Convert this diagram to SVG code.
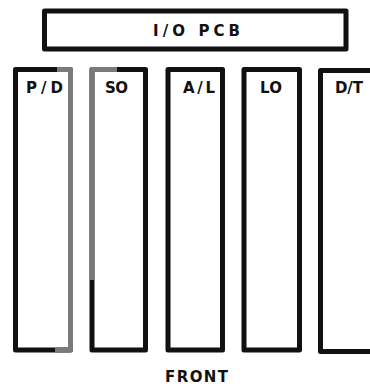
<svg xmlns="http://www.w3.org/2000/svg" width="370" height="387" viewBox="0 0 370 387">
<style>
.box{fill:#fff;stroke:#111;stroke-width:5;stroke-linejoin:round}
.gray{fill:none;stroke:#7a7a7a;stroke-width:5;stroke-linejoin:round}
.lbl{font-family:"DejaVu Sans","Liberation Sans",Arial,sans-serif;font-weight:bold;font-size:15px;fill:#111}
</style>
<rect width="370" height="387" fill="#fff"/>
<g id="io-pcb">
<rect class="box" x="44.5" y="11" width="301.5" height="38" stroke-width="4"/>
<text class="lbl" x="153" y="36" font-size="12" textLength="87" lengthAdjust="spacing">I/O PCB</text>
</g>
<g id="slot-pd">
<rect class="box" x="15.5" y="69.5" width="55" height="280.5"/>
<path class="gray" d="M57,69.5 H70.5 V350 H55"/>
<text class="lbl" x="26" y="93" textLength="37" lengthAdjust="spacing">P/D</text>
</g>
<g id="slot-so">
<rect class="box" x="92" y="69.5" width="53.5" height="280.5"/>
<path class="gray" d="M117,69.5 H92 V280"/>
<text class="lbl" x="105" y="93" textLength="23" lengthAdjust="spacing">SO</text>
</g>
<g id="slot-al">
<rect class="box" x="168" y="69.5" width="54.5" height="280.5"/>
<text class="lbl" x="183" y="93" textLength="32" lengthAdjust="spacing">A/L</text>
</g>
<g id="slot-lo">
<rect class="box" x="244" y="69.5" width="55.5" height="280.5"/>
<text class="lbl" x="260" y="93" textLength="22" lengthAdjust="spacing">LO</text>
</g>
<g id="slot-dt">
<path class="box" d="M375,70.5 H320.5 V351.5 H375"/>
<text class="lbl" x="335" y="93" textLength="28" lengthAdjust="spacing">D/T</text>
</g>
<g id="connectors"></g>
<text class="lbl" x="165" y="382" font-size="16" textLength="63" lengthAdjust="spacing">FRONT</text>
</svg>
